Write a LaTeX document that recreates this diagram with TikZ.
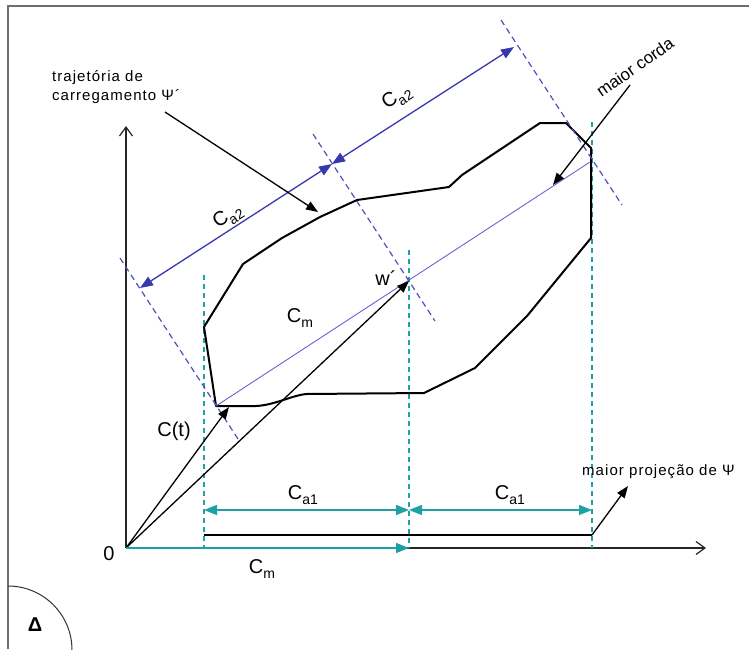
\documentclass[tikz,border=0pt]{standalone}
\usepackage{fontspec}
\setmainfont{Liberation Sans}
\newfontfamily\annotfont[LetterSpace=7]{Liberation Sans}
\usetikzlibrary{arrows.meta}
\definecolor{tealc}{RGB}{30,160,165}
\definecolor{bluea}{RGB}{55,55,175}
\definecolor{blued}{RGB}{80,80,190}
\definecolor{bluec}{RGB}{100,100,210}
\definecolor{framec}{RGB}{110,110,110}
\newcommand\lblfont{\fontsize{20}{22}\selectfont}
\newcommand\subx[1]{\raisebox{-0.45ex}{\fontsize{14}{14}\selectfont #1}}
\newcommand\annl{\annotfont\fontsize{15}{19}\selectfont}
\begin{document}
\begin{tikzpicture}[x=1pt,y=-1pt,
  framel/.style={draw=framec,line width=1.3pt},
  axisl/.style={draw=black!85,line width=1.2pt,-{Straight Barb[length=9pt,width=13pt]}},
  tdash/.style={draw=tealc,line width=1.2pt,dash pattern=on 5pt off 4pt},
  bdash/.style={draw=blued,line width=1.2pt,dash pattern=on 6pt off 4pt},
  traj/.style={draw=black,line width=2pt,line join=round},
  chord/.style={draw=bluec,line width=0.9pt},
  tarrow/.style={draw=tealc,line width=1.3pt,-{Triangle[length=13pt,width=10pt]}},
  tdbl/.style={draw=tealc,line width=1.3pt,{Triangle[length=13pt,width=10pt]}-{Triangle[length=13pt,width=10pt]}},
  bdbl/.style={draw=bluea,line width=1.3pt,{Triangle[length=13pt,width=10pt]}-{Triangle[length=13pt,width=10pt]}},
  karrow/.style={draw=black,line width=1.3pt,-{Triangle[length=12pt,width=9pt]}},
  lbl/.style={inner sep=0pt,font=\lblfont},
  ann/.style={inner sep=0pt,font=\annl,align=left}
]
\useasboundingbox (0,0) rectangle (749,649);
% frame and corner
\draw[framel] (8,649) -- (8,6) -- (749,6);
\draw[draw=black!80,line width=1pt] (8,586) arc[start angle=-90,end angle=0,radius=64];
\node[inner sep=0pt,font=\fontsize{20}{20}\selectfont\bfseries] (delta) at (35,625) {Δ};

% coordinates
\coordinate (O) at (126,548);
\coordinate (Ytip) at (126,126);
\coordinate (Xtip) at (706,548);
\coordinate (CmEnd) at (409,548);
\coordinate (A) at (216,406);
\coordinate (Ct) at (229,407);
\coordinate (W) at (409,281);
\coordinate (Bch) at (590,162);

% axes
\draw[axisl] (O) -- (Ytip);
\draw[axisl] (O) -- (Xtip);

% teal dashed verticals
\coordinate (v1t) at (204,275); \coordinate (v1b) at (204,548);
\coordinate (v2t) at (409,250); \coordinate (v2b) at (409,548);
\coordinate (v3t) at (592,122); \coordinate (v3b) at (592,548);
\draw[tdash] (v1t) -- (v1b);
\draw[tdash] (v2t) -- (v2b);
\draw[tdash] (v3t) -- (v3b);

% trajectory
\draw[traj] (216,406) -- (256,406) .. controls (275,405) and (290,396) .. (306,394) -- (424,393) -- (475,368) -- (527,316) -- (591,238) -- (591,148) -- (566,123) -- (540,123) -- (462,175) -- (449,187) -- (357,200) -- (320,217) -- (282,238) -- (243,264) -- (204,327) -- cycle;

% chord
\draw[chord] (A) -- (Bch);

% blue dashed perpendiculars
\coordinate (d1t) at (120,258); \coordinate (d1b) at (240,442);
\coordinate (d2t) at (313,134); \coordinate (d2b) at (435,321);
\coordinate (d3t) at (501,20);  \coordinate (d3b) at (622,205);
\draw[bdash] (d1t) -- (d1b);
\draw[bdash] (d2t) -- (d2b);
\draw[bdash] (d3t) -- (d3b);

% Ca2 arrows
\coordinate (e1) at (140,288);
\coordinate (e2) at (332,164);
\coordinate (e3) at (514,47);
\draw[bdbl] (e1) -- (e2);
\draw[bdbl] (e2) -- (e3);
\node[lbl,rotate=33] (ca2a) at (228,217) {C\subx{a2}};
\node[lbl,rotate=33] (ca2b) at (397,98) {C\subx{a2}};

% vectors from origin
\draw[karrow] (O) -- (Ct);
\draw[karrow] (O) -- (W);
\node[lbl] (ct) at (174,431) {C(t)};
\node[lbl] (w) at (386,278) {w´};
\node[lbl] (cmin) at (300,318) {C\subx{m}};

% Ca1 dimension arrows
\coordinate (h1) at (204,510);
\coordinate (h2) at (409,510);
\coordinate (h3) at (592,510);
\draw[tdbl] (h1) -- (h2);
\draw[tdbl] (h2) -- (h3);
\node[lbl] (ca1a) at (303,495) {C\subx{a1}};
\node[lbl] (ca1b) at (510,495) {C\subx{a1}};

% projection line
\coordinate (p1) at (204,535);
\coordinate (p2) at (592,535);
\coordinate (p3) at (628,486);
\draw[draw=black,line width=1.2pt] (p1) -- (p2);
\draw[karrow] (p2) -- (p3);
\node[ann,anchor=base west] (proj) at (582,475) {maior projeção de Ψ};

% Cm along axis
\draw[tarrow] (O) -- (CmEnd);
\node[lbl] (cmax) at (262,569) {C\subx{m}};
\node[lbl] (zero) at (109,554) {0};

% annotations
\node[ann,anchor=north west] (trajl) at (52,70) {trajetória de\\carregamento Ψ´};
\coordinate (t1) at (165,112);
\coordinate (t2) at (318,212);
\draw[karrow] (t1) -- (t2);

\node[inner sep=0pt,font=\fontsize{17}{17}\selectfont,rotate=35] (corda) at (635,67) {maior corda};
\coordinate (c1) at (630,85);
\coordinate (c2) at (553,185);
\draw[karrow] (c1) -- (c2);
\end{tikzpicture}
\end{document}
